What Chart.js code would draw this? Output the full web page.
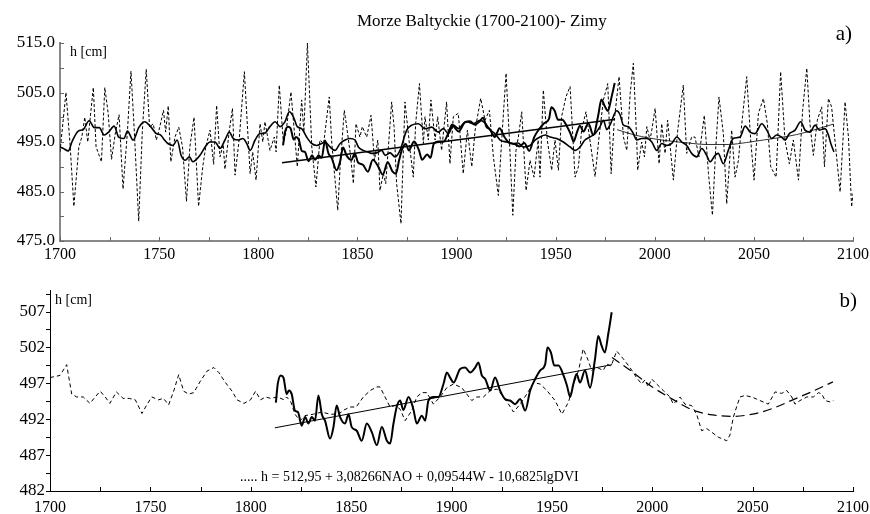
<!DOCTYPE html>
<html>
<head>
<meta charset="utf-8">
<script src="https://cdn.jsdelivr.net/npm/chart.js@4.4.0/dist/chart.umd.min.js"></script>
<style>
  body { margin: 0; background: #fff; }
  #top { position: absolute; left: 0; top: 0; width: 870px; height: 262px; }
  #bot { position: absolute; left: 0; top: 262px; width: 870px; height: 252px; }
</style>
</head>
<body>
<div id="top"><canvas id="chartTop"></canvas></div>
<div id="bot"><canvas id="chartBot"></canvas></div>
<script>
// ---- panel a) annual values (dashed)
const dashYears = [1700,1703,1705,1707,1709.5,1711,1712.5,1714,1716.8,1718.2,1720.9,1722.6,1724.3,1726,1728,1729.8,1731.8,1734,1735.8,1737.5,1739.7,1741.5,1743.5,1745.2,1747,1748.6,1750.3,1752.2,1753.3,1754.6,1755.9,1758,1759.9,1761.8,1763.8,1765.5,1767.6,1769.9,1772,1773.5,1775.7,1777.5,1779,1780.7,1782.3,1783.2,1785.3,1787,1788.3,1790.5,1793,1795.9,1797.2,1798.9,1800.9,1802.3,1803.4,1805.9,1808.1,1809,1810.6,1812.7,1814,1816.5,1819.7,1821.9,1823,1824.8,1827,1829.1,1831.1,1833,1835.8,1837.1,1840.1,1841.3,1843.4,1844.6,1846.3,1848,1849.3,1851.3,1852.5,1854.7,1856.9,1858.6,1860.3,1861.4,1863.1,1864.3,1867.3,1868.5,1869.8,1872,1874,1876.6,1878.2,1879.4,1881.3,1883.3,1884.1,1885.8,1887.1,1889.2,1890.5,1892.5,1895,1896.7,1898.4,1900.9,1903.4,1905.5,1907.7,1909.4,1912.2,1914.4,1916.6,1918.6,1921.1,1922.8,1925,1926.7,1928.4,1930,1931.2,1932.9,1935.1,1937.1,1939.1,1941.2,1942.1,1943.8,1945.8,1948,1949.7,1951.4,1953,1955.2,1957.3,1959.8,1961.5,1963.1,1965.3,1967.3,1969.9,1971.9,1974.1,1976.3,1978,1979.6,1982,1984.2,1985.9,1987.6,1989.2,1990.9,1991.4,1993.4,1994.8,1996,1997.6,1998.5,2000.2,2002.2,2003.5,2005.2,2006.5,2009.4,2011.6,2014.4,2016.1,2018.6,2020.3,2022.3,2025,2027.1,2029.1,2030.7,2032.4,2034.6,2036.3,2038.8,2040.5,2042.2,2043.9,2046.4,2048.4,2050.1,2052.3,2054.8,2056.8,2058.5,2061.2,2063.5,2065.7,2067.9,2069.9,2072.5,2074.6,2076.7,2078.3,2080,2082,2084.2,2085.6,2087.6,2089.2,2091.4,2093.5,2096,2097.7,2099.3,2100]
const dashVals = [493,505,495,482,494,496,500,495,506,494,491,506,500.8,491.5,497,500.5,485.5,497,509.3,497,479,497,509.7,498,498.7,495.4,498,501.4,497,502.3,491,496,498,494,483,494,500,482,490,494,497.4,490.5,502.4,492,494.5,489.5,497,501.8,488.3,496,509.2,488.6,493,487.3,498.7,495,499.1,493.3,496,493,506.5,494.7,497,505.1,490,503.5,497,515,494,485.9,495.4,494.7,504.1,494.7,481.2,490,501.4,498.1,493,486.6,498.7,496,498.1,496,500.4,491.3,495.4,485.2,488.6,486.6,503.1,498.1,486.6,478.5,503.1,493.3,487.9,498.7,506.8,494.7,500.1,495.4,503.5,495.4,500.1,493.3,503.1,490.6,500.1,500.8,488.6,497.4,490,497.4,503.8,499.4,501.4,492,484.2,495.4,508.9,495.4,480.2,493.3,496,501.1,485.2,491.3,487.9,495.4,487.9,505.5,495.4,489.3,495.4,489.3,500.1,504.1,506.2,487.9,490,497.4,501.1,495.4,488,496,503.5,506.8,488.6,499.4,508.2,496,493.3,504.8,510.9,495.4,489.3,495,492,498.1,495.4,497.4,501.8,490.6,498.7,492.7,499.4,487.3,497.4,506.5,492.7,496,496,492,500.4,488.6,480.2,493.3,504.1,496.7,482.5,497.4,487.9,491.3,498.7,508.2,495.4,487.3,500.8,503.8,498.7,490,487.9,509.2,495.4,490.6,495.4,487.3,501.4,509.9,498.7,492.3,499.4,502.1,490,503.8,502.1,493.3,484.9,503.1,496,481.9,484.6]

// ---- panel a) smoothed model (thick, 1700-2090)
const modelYears = [1700,1701.7,1704.2,1706,1709.2,1711.7,1714.7,1717.3,1719.8,1722.3,1724.5,1727.3,1729.6,1732.3,1734,1736.9,1739.7,1742.7,1745.5,1748.6,1750.8,1752.5,1754.4,1757,1759.1,1761.1,1763.2,1765.3,1767,1770.6,1773.2,1775.7,1778.2,1780.7,1783.2,1785.4,1787.4,1790,1792.2,1794.2,1795.9,1798.4,1800.9,1803.4,1805.9,1808.5,1811,1813.5,1815.7,1817.7,1819.7,1821.9,1824.4,1826.9,1829.5,1832,1833.7,1836.2,1838.7,1841.3,1843.8,1846.3,1848.8,1850.5,1853,1855.2,1857.2,1859.7,1862.3,1864,1866.5,1869,1871.5,1874.9,1877.4,1880.8,1884.1,1887.5,1890.8,1893.4,1895.9,1898.4,1901,1903.4,1905.2,1908.5,1911.9,1914.5,1917,1919.4,1922,1925.3,1928.7,1931,1933.7,1937.1,1939.6,1942.1,1944.7,1947.2,1950.5,1953.9,1957.3,1959.8,1962.3,1964.8,1967.3,1969.9,1972.4,1974.1,1975.8,1977.5,1980.8,1982.5,1984.2,1986.7,1989.2,1990.9,1993.4,1996,1998.5,2001,2003.5,2006,2008.6,2011.1,2013.6,2016.1,2018.6,2021.2,2023.7,2026.2,2027.9,2030.4,2032,2034.6,2037.1,2039.6,2043,2045.6,2048.1,2050.6,2054,2056.5,2059,2061.5,2064,2065.7,2067.9,2070.8,2073.6,2075.8,2078.3,2080.9,2083,2085.9,2087.6,2088.8,2090.4]
const modelVals = [494,493.7,493.2,495,497.2,497.5,499.3,497.9,497.9,496.4,497,498.2,496,495.7,497.2,495.4,497.9,499.1,498.2,496.7,496.4,495.5,494.7,494.3,495.4,492.3,491.3,492,491,492.3,494,495,495,493.7,495.4,497,495.7,495.4,495.7,494.7,493.3,495.4,496.7,496.8,498.1,499.1,498.1,499.1,501.1,500.1,498.1,497.7,496,494.7,494.3,494.7,495,494,493.3,494.7,495.4,495.7,495.4,494,493.3,493,492.7,492.8,493.3,492.3,492.8,492,493.3,497.4,498.4,498.7,497.7,498,497,497.7,496.7,498.4,497.7,498.7,499.1,498.7,499.4,498.8,497.4,496.7,495.4,495,494.7,494.8,494,494.3,495.4,496,496.4,496,495.7,495,494,493.3,494,495.4,496,496.7,498.1,499.4,497.5,498.5,501.3,500.5,498.4,498.1,496.7,495.4,495.7,495.7,495,493.3,494.7,494.3,494.7,496,495,494.3,492.7,492,493.7,492.3,491,492.3,492.7,490.6,493.3,495.7,496,498.2,497,496.7,498.7,497.4,495.7,496.4,496,495.4,496.7,497.4,499.1,497.4,497,498.4,497.4,497.7,496.4,494.7,493]

// ---- observed, smoothed (thick, 1812-1980), both panels
const obsYears = [1812.5,1813.5,1815,1816.3,1817.9,1819,1820.4,1822,1823.5,1825.4,1827.1,1828.7,1830.4,1832,1833.7,1835.4,1837,1839.5,1841.2,1842.8,1844.5,1847,1848.7,1850.3,1852.8,1855.3,1857.8,1860.3,1862.8,1865.3,1867.8,1869.4,1871.1,1872.7,1874.4,1876,1878.6,1881,1882.7,1885.2,1886.9,1888.5,1891,1893.5,1896,1897.7,1899.3,1901,1904.3,1906.8,1909.3,1911.8,1913.4,1915.1,1916.8,1919.3,1921.7,1924.2,1926.7,1929.2,1931.7,1934.2,1936.7,1939.2,1941.7,1944.2,1946.7,1947.8,1949.5,1951.2,1953.3,1955.8,1957.5,1959.1,1960.7,1962.3,1964,1966.5,1969,1971.5,1973.1,1974.8,1976.4,1978.1,1979.8]
const obsVals = [494.3,497,498.1,497.8,495.5,496,495.5,493.2,493,491.1,492.3,491.4,492.3,491.8,495.3,492.7,491.8,489.3,490.9,493.9,492.3,491.4,492.7,490.9,490.4,489,491.4,490.2,488.4,490.9,489,488.6,491.4,493.7,494.6,493.3,495.1,493.4,491.4,492.5,491.8,494.6,495.1,495.1,496.9,498.5,497.8,497.1,499,499.2,498.5,499.2,499.9,498.1,497.6,496,497.8,496,494.8,494.6,494.1,494.8,493.2,496,497.6,498.8,499.7,502,501.3,499.5,499.5,498.1,496.7,495.1,496.9,498.3,497.1,498.8,496.4,500.4,503.6,502.2,501.3,503.9,506.9]

// ---- linear trend 1812-1980
const trendYears = [1812, 1980]
const trendVals = [490.8, 499.6]

// ---- panel a) fitted curve after 1980 (thin)
const curveTopYears = [1981, 1990, 2003.5, 2017, 2025.4, 2037, 2046.4, 2054.8, 2063.2, 2071.6, 2080, 2090]
const curveTopVals = [497.5, 496.4, 495.4, 494.8, 494.5, 494.5, 494.9, 495.4, 495.9, 496.5, 497.4, 498.6]

// ---- panel b) model from equation (dashed)
const eqYears = [1700,1705,1708.3,1710.8,1713.3,1716.6,1719.9,1722.5,1725,1727.5,1729.8,1733.1,1736.4,1739.5,1742.5,1745.8,1748.2,1750.7,1754,1756.5,1759.1,1761.6,1764.1,1766.6,1769.1,1771.6,1774.9,1778.2,1781.6,1784.1,1787.4,1790.7,1793.2,1796.6,1799.9,1802.4,1804.9,1807.4,1809.9,1813.3,1816.6,1817.9,1820,1822,1824.6,1827,1831.2,1835.4,1839.5,1843.7,1846.5,1849.5,1852.5,1856.1,1859.5,1862.8,1864.4,1866.9,1869.4,1872,1874.4,1876.9,1880.2,1882.7,1885.2,1887.7,1891,1894.3,1897.7,1901,1905.1,1907.6,1910.1,1912.6,1915.9,1919.3,1922.6,1925.9,1928.4,1930.9,1934.2,1937.5,1940.9,1944.2,1947.5,1951.6,1955,1958.3,1960.8,1963.3,1965.6,1968.1,1969.8,1972.5,1975.6,1977.3,1979.5,1982.3,1985.6,1988.9,1992.2,1994.7,1996.4,1998,1999.7,2002.2,2005.5,2008.8,2010.5,2013.8,2016.3,2019.6,2022.1,2024.6,2027.1,2029.6,2032.9,2037.1,2038.7,2040.4,2042,2043.7,2046.2,2049.5,2052,2055.3,2057.8,2061.2,2064.5,2067,2069.5,2071.1,2073.6,2077,2080.3,2082.8,2084.5,2086.1,2088.6,2090.2]
const eqVals = [497.8,498.1,499.6,495.5,495.1,495.1,494.2,495.1,495.9,495.1,494.2,495.8,494.9,494.9,494.7,492.8,494,495.1,494.7,494.9,494,495.9,498.2,495.9,495.5,495.7,497.3,498.7,499.2,498.5,497.1,495.9,494.7,494.2,494.7,495.9,494.7,495.1,494.9,495.1,494.7,495.1,494.4,492.7,491.8,492.5,492.7,493,492.7,492.7,493.3,493.7,493.7,495.1,496,496.5,496.5,495.1,493.7,493.9,493.4,491.8,493.2,495.1,495.7,495.7,494.1,495.1,496.4,496.9,496.4,495.5,494.6,495.1,495.1,496,496.2,495.1,494.1,493,494.1,495.5,497.1,496.9,496,494.6,492.7,494.4,496.9,498.8,501.8,500.2,498.8,499.2,498.8,499.7,499.4,501.5,500.4,499.2,497.8,496.9,497.5,496.5,497.6,496.9,496,495.1,494.1,495.1,494.1,493.9,492.7,490.4,490.7,490.2,489.5,489,489.8,492.3,493.7,495.1,495.3,495.1,494.8,494.4,494.1,495.8,495.6,496,495.1,494.1,494.6,495.1,495.1,495.7,495.5,494.6,494.4,494.6]

// ---- panel b) fitted curve after 1980 (long dashes)
const curveBotYears = [1980, 1990, 2000, 2010, 2020, 2030, 2040, 2050, 2060, 2070, 2080, 2090]
const curveBotVals = [500.6, 498.6, 496.5, 494.8, 493.3, 492.6, 492.4, 492.7, 493.5, 494.7, 495.9, 497.2]

// ---- axes
const xLabels = [1700, 1750, 1800, 1850, 1900, 1950, 2000, 2050, 2100]
const topYLabels = [475, 485, 495, 505, 515]
const botYLabels = [482, 487, 492, 497, 502, 507]
const xMinor = []
for (let v = 1700; v <= 2100; v += 25) xMinor.push(v)
const topYMinor = []
for (let v = 475; v <= 515; v += 5) topYMinor.push(v)
const botYMinor = []
for (let v = 482; v <= 510; v += 2.5) botYMinor.push(v)

const pts = (xs, ys) => xs.map((x, i) => ({x: x, y: ys[i]}))
const serif = 'Liberation Serif'

// small ticks and the free texts
const extras = {
  id: 'extras',
  afterDraw(chart, args, o) {
    const ctx = chart.ctx
    const xs = chart.scales.x, ys = chart.scales.y
    ctx.save()
    ctx.strokeStyle = o.tickColor
    ctx.lineWidth = 1
    o.xTicks.forEach(v => {
      const p = Math.round(xs.getPixelForValue(v)) + 0.5
      ctx.beginPath(); ctx.moveTo(p, ys.bottom); ctx.lineTo(p, ys.bottom - o.xLen); ctx.stroke()
    })
    o.yTicks.forEach(v => {
      const p = Math.round(ys.getPixelForValue(v)) + 0.5
      ctx.beginPath(); ctx.moveTo(xs.left, p); ctx.lineTo(xs.left + o.yLen, p); ctx.stroke()
    })
    ctx.fillStyle = '#000'
    o.texts.forEach(t => {
      ctx.font = t.size + 'px "' + serif + '"'
      ctx.textAlign = t.align || 'left'
      ctx.textBaseline = 'alphabetic'
      ctx.fillText(t.text, t.x, t.y)
    })
    ctx.restore()
  }
}

function lineSet(data, width, dash, mode) {
  return {
    data: data, borderColor: '#000', borderWidth: width, borderDash: dash || [],
    pointRadius: 0, fill: false,
    tension: mode === 'smooth' ? 0.4 : 0,
    cubicInterpolationMode: mode === 'smooth' ? 'monotone' : 'default'
  }
}

function scalesFor(yMin, yMax, yLabels, yFmt, yFont, axisColor, axisW, xPad, yW, xH) {
  return {
    x: {
      type: 'linear', min: 1700, max: 2100,
      afterBuildTicks: s => { s.ticks = xLabels.map(v => ({value: v})) },
      ticks: {color: '#000', font: {family: serif, size: 16}, padding: xPad, maxRotation: 0, autoSkip: false,
              callback: v => String(v)},
      grid: {display: false, drawTicks: false},
      border: {display: true, color: axisColor, width: axisW},
      afterFit: s => { s.height = xH; s.paddingLeft = 0; s.paddingRight = 0 }
    },
    y: {
      type: 'linear', min: yMin, max: yMax,
      afterBuildTicks: s => { s.ticks = yLabels.map(v => ({value: v})) },
      ticks: {color: '#000', font: {family: serif, size: yFont}, padding: 5, callback: yFmt, autoSkip: false},
      grid: {display: false, drawTicks: false},
      border: {display: true, color: axisColor, width: axisW},
      afterFit: s => { s.width = yW }
    }
  }
}

new Chart(document.getElementById('chartTop'), {
  type: 'line',
  data: {
    datasets: [
      lineSet(pts(dashYears, dashVals), 1, [3, 2]),
      lineSet(pts(modelYears, modelVals), 1.6, null, 'smooth'),
      lineSet(pts(obsYears, obsVals), 2, null, 'smooth'),
      lineSet(pts(trendYears, trendVals), 1.6),
      Object.assign(lineSet(pts(curveTopYears, curveTopVals), 1, null, 'smooth'), {borderColor: '#333'})
    ]
  },
  options: {
    responsive: true, maintainAspectRatio: false, animation: false, events: [],
    layout: {padding: {left: 0, right: 17, top: 43, bottom: 0}},
    plugins: {
      legend: {display: false}, tooltip: {enabled: false},
      extras: {
        tickColor: '#666', xTicks: xMinor, xLen: 4, yTicks: topYMinor, yLen: 4,
        texts: [
          {text: 'Morze Baltyckie (1700-2100)- Zimy', x: 357, y: 26, size: 17},
          {text: 'a)', x: 852, y: 40, size: 21, align: 'right'},
          {text: 'h [cm]', x: 70, y: 56, size: 14}
        ]
      }
    },
    scales: scalesFor(475, 515, topYLabels, v => v.toFixed(1), 17, '#888', 2, 4, 60, 21)
  },
  plugins: [extras]
})

new Chart(document.getElementById('chartBot'), {
  type: 'line',
  data: {
    datasets: [
      lineSet(pts(eqYears, eqVals), 1, [4, 3]),
      lineSet(pts(obsYears, obsVals), 2, null, 'smooth'),
      lineSet(pts(trendYears, trendVals), 1),
      lineSet(pts(curveBotYears, curveBotVals), 1.2, [9, 5], 'smooth')
    ]
  },
  options: {
    responsive: true, maintainAspectRatio: false, animation: false, events: [],
    layout: {padding: {left: 0, right: 17, top: 28, bottom: 0}},
    plugins: {
      legend: {display: false}, tooltip: {enabled: false},
      extras: {
        tickColor: '#000', xTicks: xMinor, xLen: 4, yTicks: botYMinor, yLen: -4,
        texts: [
          {text: 'b)', x: 857, y: 45, size: 21, align: 'right'},
          {text: 'h [cm]', x: 55, y: 42, size: 14},
          {text: '..... h = 512,95 + 3,08266NAO + 0,09544W - 10,6825lgDVI', x: 240, y: 219, size: 14}
        ]
      }
    },
    scales: scalesFor(482, 510, botYLabels, v => String(v), 17, '#000', 1, 7, 50, 23)
  },
  plugins: [extras]
})
</script>
</body>
</html>
